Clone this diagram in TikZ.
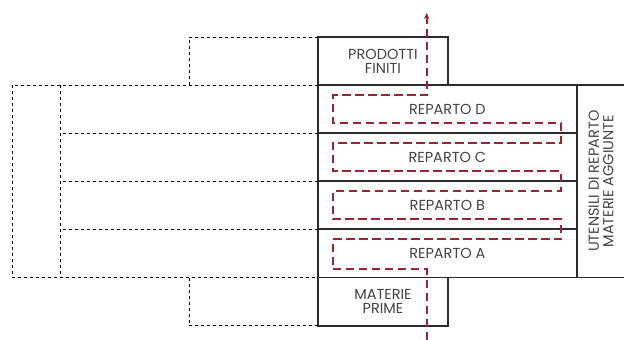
\documentclass[tikz,border=0pt]{standalone}
\usepackage{fontspec}
\setmainfont{Poppins}
\usetikzlibrary{arrows.meta,calc}
\definecolor{flowred}{HTML}{9B2335}
\definecolor{txtgray}{HTML}{444444}
\definecolor{edgegray}{HTML}{2B2B2B}
\tikzset{
  box/.style={draw=edgegray, line width=1.8pt, inner sep=0pt, outer sep=0pt,
    text=txtgray, font=\fontsize{14.5}{14.5}\selectfont, align=center},
  link/.style={draw=black, line width=1pt, dash pattern=on 3pt off 3pt},
  flow/.style={draw=flowred, line width=1.8pt, dash pattern=on 8.5pt off 4.5pt,
    -{Stealth[length=6pt,width=5.5pt]}},
}
\begin{document}
\begin{tikzpicture}[x=1pt,y=-1pt]
\clip (0,0) rectangle (624,340);
% boxes
\node[box, minimum width=129.4pt, minimum height=47.7pt] (P) at (383,61.15) {PRODOTTI\\FINITI};
\node[box, minimum width=258.7pt, minimum height=48.1pt] (D) at (447.35,109.05) {REPARTO D};
\node[box, minimum width=258.7pt, minimum height=48.1pt] (C) at (447.35,157.15) {REPARTO C};
\node[box, minimum width=258.7pt, minimum height=48.1pt] (B) at (447.35,205.25) {REPARTO B};
\node[box, minimum width=258.7pt, minimum height=48.1pt] (A) at (447.35,253.35) {REPARTO A};
\node[box, minimum width=129.4pt, minimum height=48.3pt] (M) at (383,301.55) {MATERIE\\PRIME};
\node[box, rotate=90, minimum width=192.4pt, minimum height=48.8pt] (U) at (601.1,181.2) {UTENSILI DI REPARTO\\MATERIE AGGIUNTE};
% dashed links
\coordinate (ptl) at (189.3,85);
\coordinate (mbl) at (189.3,277.4);
\coordinate (outer) at (12.3,85);
\coordinate (inner) at (60,85);
\coordinate (innerb) at (60,277.4);
\draw[link] (P.north west) -| (ptl);
\draw[link] (M.south west) -| (mbl);
\draw[link] (D.north west) -- (outer) |- (A.south west);
\draw[link] (inner) -- (innerb);
\draw[link] (C.north west) -- (C.north west -| inner);
\draw[link] (B.north west) -- (B.north west -| inner);
\draw[link] (A.north west) -- (A.north west -| inner);
% flow
\coordinate (fin) at (426.7,340);
\coordinate (fout) at (426.7,13);
\draw[flow] (fin) -- (426.7,269.3) -- (332.7,269.3) -- (332.7,239.3) -- (560.7,239.3)
  -- (560.7,219) -- (332.7,219) -- (332.7,191) -- (560.7,191)
  -- (560.7,171) -- (332.7,171) -- (332.7,142.7) -- (560.7,142.7)
  -- (560.7,122.7) -- (332.7,122.7) -- (332.7,95.3) -- (426.7,95.3) -- (fout);
\end{tikzpicture}
\end{document}
